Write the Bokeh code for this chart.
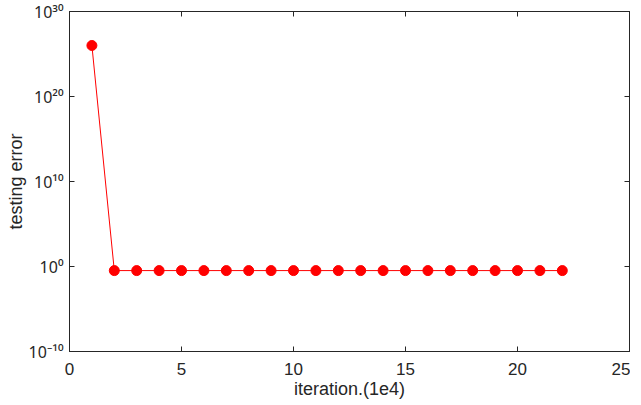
from bokeh.plotting import figure
from bokeh.models import FixedTicker, LinearAxis, LogAxis, CustomJSTickFormatter, Range1d
from bokeh.embed import file_html
from bokeh.resources import INLINE

iterations = list(range(1, 23))
testing_error = [1e26] + [0.33] * 21
x_ticks = [0, 5, 10, 15, 20, 25]
y_ticks = [1e-10, 1e0, 1e10, 1e20, 1e30]

FONT = "Liberation Sans"
INK = "#262626"

p = figure(width=630, height=405, output_backend="svg", toolbar_location=None,
           y_axis_type="log", x_range=Range1d(0, 25), y_range=Range1d(1e-10, 1e30),
           min_border_left=69, min_border_right=1, min_border_top=11, min_border_bottom=54)
p.grid.visible = False
p.outline_line_color = INK
p.outline_line_width = 1

p.line(iterations, testing_error, line_color="#ff0000", line_width=1)
p.scatter(iterations, testing_error, size=10, fill_color="#ff0000", line_color="#ff0000")

sup_js = """
const sup = {'0':'\u2070','1':'\u00b9','2':'\u00b2','3':'\u00b3','4':'\u2074','5':'\u2075','6':'\u2076','7':'\u2077','8':'\u2078','9':'\u2079','-':'\u207b'};
const e = Math.round(Math.log10(tick));
return '10' + String(e).split('').map(c => sup[c]).join('');
"""

def style(ax, labels=True):
    ax.axis_line_color = INK
    ax.major_tick_line_color = INK
    ax.major_tick_in = 5
    ax.major_tick_out = 0
    ax.minor_tick_line_color = None
    ax.major_label_text_font = FONT
    ax.major_label_text_font_size = "17px"
    ax.major_label_text_color = INK
    ax.axis_label_text_font = FONT
    ax.axis_label_text_font_size = "18px"
    ax.axis_label_text_font_style = "normal"
    ax.axis_label_text_color = INK
    if not labels:
        ax.major_label_text_color = None

p.xaxis.ticker = FixedTicker(ticks=x_ticks)
p.xaxis.axis_label = "iteration.(1e4)"
p.xaxis.major_label_standoff = 11
p.xaxis.axis_label_standoff = 1
style(p.xaxis[0])

p.yaxis.ticker = FixedTicker(ticks=y_ticks)
p.yaxis.formatter = CustomJSTickFormatter(code=sup_js)
p.yaxis.axis_label = "testing error"
style(p.yaxis[0])
p.yaxis.major_label_text_font = "Noto Sans"
p.yaxis.major_label_text_font_size = "16px"
p.yaxis.major_label_standoff = 6
p.yaxis.axis_label_standoff = 0

top = LinearAxis(ticker=FixedTicker(ticks=x_ticks))
style(top, labels=False)
top.major_label_standoff = 0
p.add_layout(top, "above")
right = LogAxis(ticker=FixedTicker(ticks=y_ticks))
style(right, labels=False)
right.major_label_standoff = 0
p.add_layout(right, "right")

open("out.html", "w").write(file_html(p, INLINE))
